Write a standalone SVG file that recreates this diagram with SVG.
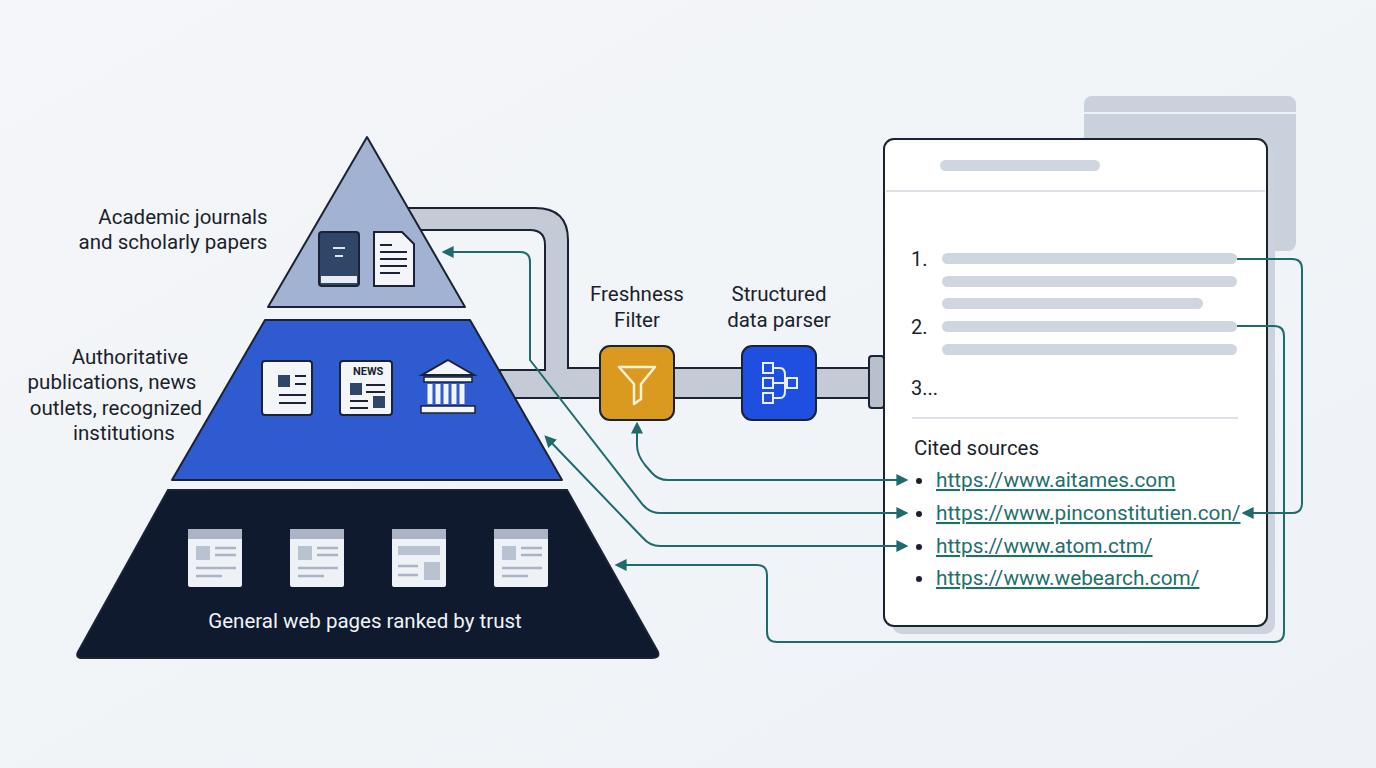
<svg xmlns="http://www.w3.org/2000/svg" width="1376" height="768" viewBox="0 0 1376 768">
<style>
text{font-family:Roboto,"Liberation Sans",sans-serif;}
.lbl{font-size:20.5px;fill:#1a1f2b;text-anchor:middle;}
.con{fill:none;stroke:#1f6b6b;stroke-width:2;}
.bar{fill:#cfd6df;}
.link{font-size:20.8px;fill:#1f6f6a;text-decoration:underline;}
.num{font-size:20px;fill:#1a1f2b;}
.ic{fill:#f3f5f8;stroke:#1a2233;stroke-width:2;}
.wp{fill:#eef1f5;}
.wl{stroke:#aab4c4;stroke-width:2.5;}
</style>
<defs>
<marker id="ah" viewBox="0 0 10 10" refX="8" refY="5" markerWidth="6" markerHeight="6" orient="auto-start-reverse"><path d="M0,0L10,5L0,10z" fill="#1f6b6b"/></marker>
<linearGradient id="bg" x1="0" y1="0" x2="1" y2="1"><stop offset="0" stop-color="#f4f6f9"/><stop offset="1" stop-color="#eef2f6"/></linearGradient>
</defs>
<rect width="1376" height="768" fill="url(#bg)"/>

<g id="pipes">
<path d="M400,208 H535 Q568,208 568,240 V368 H880 V398 H500 V370 H545 V245 Q545,230 530,230 H400 Z" fill="#c4cbd6" stroke="#1a2233" stroke-width="2"/>
<rect x="869" y="356" width="15" height="52" rx="3" fill="#b8c0cd" stroke="#1a2233" stroke-width="2"/>
</g>

<g id="tier-top">
<path d="M367,137 L465,307 L268,307 Z" fill="#a2b2d2" stroke="#1a2233" stroke-width="2" stroke-linejoin="round"/>
<rect x="319" y="232" width="40" height="54" rx="3" fill="#2f4668" stroke="#1a2233" stroke-width="2"/>
<rect x="321" y="276" width="36" height="7" fill="#e8ecf2"/>
<line x1="333" y1="248" x2="345" y2="248" stroke="#dfe5ee" stroke-width="2"/>
<line x1="335" y1="256" x2="343" y2="256" stroke="#dfe5ee" stroke-width="2"/>
<path d="M374,232 H402 L414,244 V286 H374 Z" class="ic"/>
<path d="M380,245 H392 M380,252 H407 M380,259 H407 M380,266 H407 M380,273 H400" stroke="#1a2233" stroke-width="2"/>
<text class="lbl" x="183" y="224">Academic journals</text>
<text class="lbl" x="173" y="249">and scholarly papers</text>
</g>

<g id="tier-middle">
<path d="M265,320 L470,320 L562,480 L172,480 Z" fill="#2f5bd0" stroke="#1a2233" stroke-width="2" stroke-linejoin="round"/>
<rect x="262" y="361" width="50" height="54" rx="3" class="ic"/>
<rect x="278" y="375" width="12" height="12" fill="#2f4668"/>
<path d="M295,376 H306 M295,384 H306 M279,395 H306 M279,403 H306" stroke="#1a2233" stroke-width="2"/>
<rect x="340" y="361" width="52" height="54" rx="3" class="ic"/>
<text x="353" y="375" font-size="11" font-weight="bold" fill="#1a2233">NEWS</text>
<rect x="350" y="383" width="12" height="12" fill="#2f4668"/>
<rect x="373" y="396" width="12" height="12" fill="#2f4668"/>
<path d="M366,385 H385 M366,392 H385 M350,401 H368 M350,408 H368" stroke="#1a2233" stroke-width="2"/>
<path d="M448,360 L474,375 H422 Z" fill="#f3f5f8" stroke="#1a2233" stroke-width="2"/>
<rect x="424" y="377" width="48" height="5" fill="#f3f5f8" stroke="#1a2233" stroke-width="1.5"/>
<path d="M430,384 V404 M438,384 V404 M446,384 V404 M454,384 V404 M462,384 V404" stroke="#f3f5f8" stroke-width="5"/>
<rect x="421" y="406" width="54" height="7" fill="#f3f5f8" stroke="#1a2233" stroke-width="1.5"/>
<text class="lbl" x="130" y="364">Authoritative</text>
<text class="lbl" x="112" y="389">publications, news</text>
<text class="lbl" x="116" y="415">outlets, recognized</text>
<text class="lbl" x="124" y="440">institutions</text>
</g>

<g id="tier-bottom">
<path d="M168,490 L567,490 L658,652 Q660,658 652,658 L83,658 Q75,658 78,652 Z" fill="#0f1a2e" stroke="#1a2233" stroke-width="2"/>
<g id="wp1"><rect x="188" y="529" width="54" height="58" rx="2" class="wp"/><rect x="188" y="529" width="54" height="10" fill="#aab4c4"/><rect x="196" y="546" width="14" height="14" fill="#b8c2d0"/><path d="M215,548 H236 M215,555 H236 M196,568 H236 M196,576 H222" class="wl"/></g>
<g id="wp2"><rect x="290" y="529" width="54" height="58" rx="2" class="wp"/><rect x="290" y="529" width="54" height="10" fill="#aab4c4"/><rect x="298" y="546" width="14" height="14" fill="#b8c2d0"/><path d="M317,548 H338 M317,555 H338 M298,568 H338 M298,576 H324" class="wl"/></g>
<g id="wp3"><rect x="392" y="529" width="54" height="58" rx="2" class="wp"/><rect x="392" y="529" width="54" height="10" fill="#aab4c4"/><rect x="398" y="546" width="42" height="9" fill="#b8c2d0"/><rect x="424" y="562" width="16" height="18" fill="#b8c2d0"/><path d="M398,566 H418 M398,575 H418" class="wl"/></g>
<g id="wp4"><rect x="494" y="529" width="54" height="58" rx="2" class="wp"/><rect x="494" y="529" width="54" height="10" fill="#aab4c4"/><rect x="502" y="546" width="14" height="14" fill="#b8c2d0"/><path d="M521,548 H542 M521,555 H542 M502,568 H542 M502,576 H528" class="wl"/></g>
<text x="365" y="628" font-size="20.5" fill="#f0f3f8" text-anchor="middle">General web pages ranked by trust</text>
</g>

<g id="filter">
<rect x="600" y="346" width="74" height="74" rx="10" fill="#d99a1f" stroke="#1a2233" stroke-width="2"/>
<path d="M619,367 H655 L641,384 V399 L634,404 V384 Z" fill="none" stroke="#fff3d6" stroke-width="2.5" stroke-linejoin="round"/>
<text class="lbl" x="637" y="301">Freshness</text>
<text class="lbl" x="637" y="327">Filter</text>
</g>

<g id="parser">
<rect x="742" y="346" width="74" height="74" rx="10" fill="#1f4fe0" stroke="#1a2233" stroke-width="2"/>
<g fill="none" stroke="#e8efff" stroke-width="2">
<rect x="763" y="363" width="10" height="10"/><rect x="763" y="378" width="10" height="10"/><rect x="763" y="393" width="10" height="10"/><rect x="787" y="378" width="10" height="10"/>
<path d="M773,368 H780 Q785,368 785,375 V383 H787 M773,383 H787 M773,398 H780 Q785,398 785,391 V383"/>
</g>
<text class="lbl" x="779" y="301">Structured</text>
<text class="lbl" x="779" y="327">data parser</text>
</g>

<g id="document">
<rect x="1084" y="96" width="212" height="155" rx="8" fill="#c9d1dd"/>
<line x1="1084" y1="113" x2="1296" y2="113" stroke="#eef1f5" stroke-width="2"/>
<rect x="892" y="147" width="383" height="487" rx="10" fill="#cdd3dc"/>
<rect x="884" y="139" width="383" height="487" rx="10" fill="#ffffff" stroke="#1a2233" stroke-width="2"/>
<rect x="940" y="160" width="160" height="11" rx="5.5" class="bar"/>
<line x1="886" y1="191" x2="1265" y2="191" stroke="#dde2e8" stroke-width="2"/>
<text class="num" x="911" y="266">1.</text>
<rect x="942" y="253" width="295" height="11" rx="5.5" class="bar"/>
<rect x="942" y="276" width="295" height="11" rx="5.5" class="bar"/>
<rect x="942" y="298" width="261" height="11" rx="5.5" class="bar"/>
<text class="num" x="911" y="334">2.</text>
<rect x="942" y="321" width="295" height="11" rx="5.5" class="bar"/>
<rect x="942" y="344" width="295" height="11" rx="5.5" class="bar"/>
<text class="num" x="911" y="395">3...</text>
<line x1="912" y1="418" x2="1238" y2="418" stroke="#dde2e8" stroke-width="2"/>
<text x="914" y="455" font-size="20.5" fill="#1a1f2b">Cited sources</text>
<g fill="#1a1f2b"><circle cx="919" cy="481" r="3"/><circle cx="919" cy="514" r="3"/><circle cx="919" cy="547" r="3"/><circle cx="919" cy="579" r="3"/></g>
<text class="link" x="936" y="487">https://www.aitames.com</text>
<text class="link" x="936" y="520">https://www.pinconstitutien.con/</text>
<text class="link" x="936" y="553">https://www.atom.ctm/</text>
<text class="link" x="936" y="585">https://www.webearch.com/</text>
</g>

<g id="connectors">
<path class="con" marker-start="url(#ah)" marker-end="url(#ah)" d="M637,424 V445 Q637,455 645,465 L652,473 Q658,480 668,480 H906"/>
<path class="con" marker-start="url(#ah)" marker-end="url(#ah)" d="M444,252 H520 Q530,252 530,262 V360 L643,505 Q650,513 660,513 H906"/>
<path class="con" marker-start="url(#ah)" marker-end="url(#ah)" d="M546,437 L643,538 Q650,546 660,546 H906"/>
<path class="con" marker-end="url(#ah)" d="M1237,259 H1292 Q1302,259 1302,269 V503 Q1302,513 1292,513 H1244"/>
<path class="con" marker-end="url(#ah)" d="M1237,326 H1274 Q1284,326 1284,336 V632 Q1284,642 1274,642 H777 Q767,642 767,632 V575 Q767,565 757,565 H617"/>
</g>
</svg>
